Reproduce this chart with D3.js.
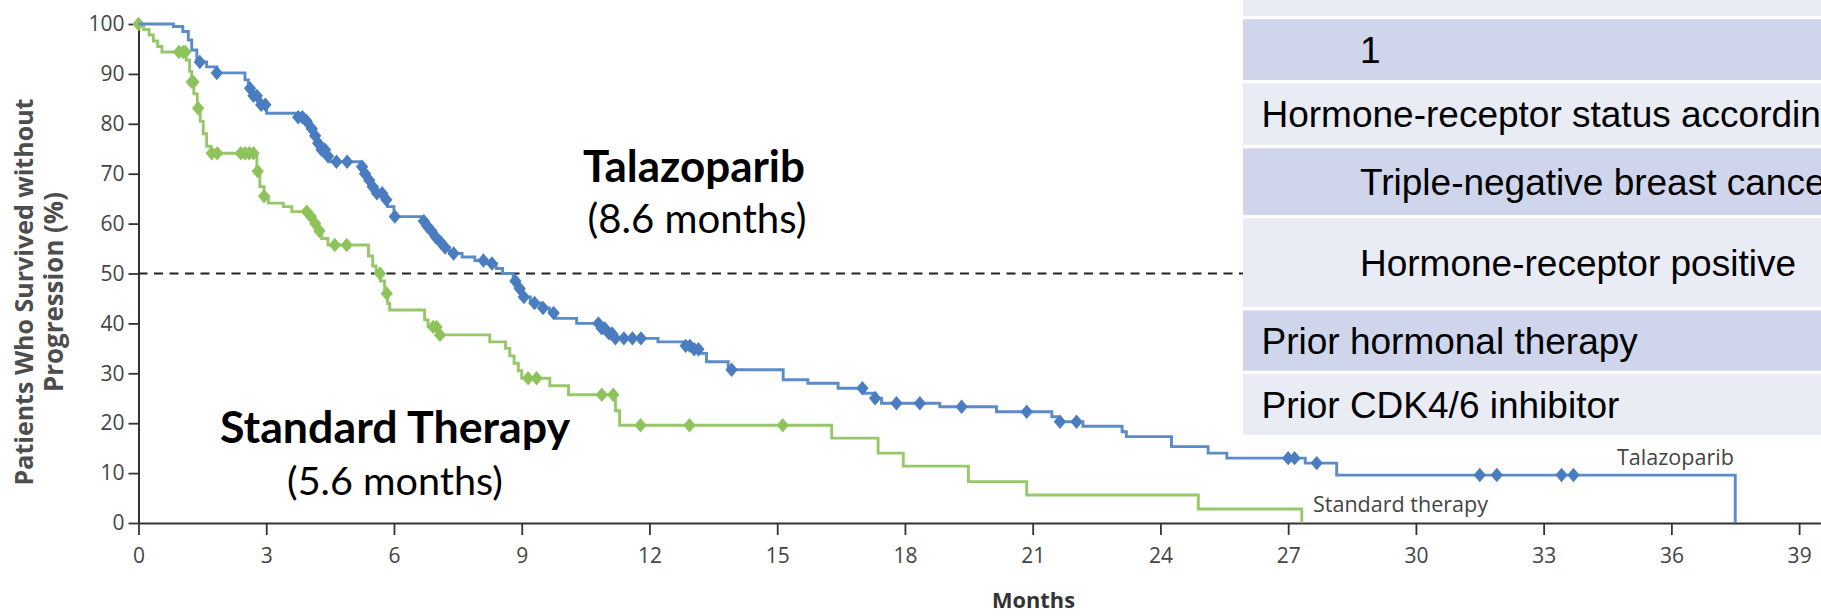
<!DOCTYPE html>
<html>
<head>
<meta charset="utf-8">
<script src="https://cdn.jsdelivr.net/npm/d3@7"></script>
<style>
  html, body { margin: 0; padding: 0; background: #fff; overflow: hidden; }
</style>
</head>
<body>
<div id="chart"></div>
<script>
// Kaplan-Meier steps (months, % without progression)
const talaTimes = [0, 0.82, 1.04, 1.17, 1.25, 1.37, 1.60, 1.84, 2.50, 2.58, 2.70, 2.85, 3.01, 3.75, 3.90, 4.03, 4.11, 4.20, 4.30, 4.40, 4.50,
  5.20, 5.30, 5.40, 5.50, 5.60, 5.75, 5.85, 6.00, 6.65, 6.75, 6.85, 6.95, 7.05, 7.15, 7.30, 7.60, 7.90, 8.15, 8.40, 8.55, 8.80, 8.90, 9.00,
  9.20, 9.45, 9.65, 9.80, 10.29, 10.85, 11.00, 11.15, 12.20, 12.85, 13.00, 13.20, 13.34, 13.85, 15.14, 15.72, 16.43, 17.05, 17.30, 17.45,
  18.82, 20.15, 21.45, 21.60, 22.18, 23.10, 23.20, 24.26, 25.12, 25.56, 27.40, 28.14, 37.50];
const talaSurv = [100, 99.5, 98.5, 96.8, 94.8, 92.4, 91.4, 90.2, 88.8, 87.1, 85.6, 83.8, 82.1, 81.3, 80.5, 79.0, 77.6, 76.1, 74.8, 73.5, 72.4,
  71.4, 70.0, 68.7, 67.4, 66.1, 64.8, 63.4, 61.4, 60.5, 59.5, 58.5, 57.3, 56.2, 55.2, 54.0, 53.3, 52.6, 52.0, 51.0, 50.0, 48.5, 47.0, 45.3,
  44.1, 43.1, 42.1, 41.0, 40.0, 39.0, 38.0, 37.0, 36.3, 35.5, 34.8, 34.0, 32.3, 30.7, 28.7, 28.0, 27.0, 26.0, 25.0, 24.0,
  23.3, 22.3, 21.3, 20.3, 19.4, 18.3, 17.3, 15.3, 14.0, 13.0, 12.0, 9.6, 0];
const talaCensor = [1.44, 1.84, 2.62, 2.70, 2.78, 2.88, 2.98, 3.75, 3.85, 3.95, 4.07, 4.15, 4.22, 4.30, 4.38, 4.45, 4.65, 4.90,
  5.25, 5.32, 5.42, 5.50, 5.60, 5.72, 5.82, 6.02, 6.70, 6.78, 6.88, 6.98, 7.10, 7.20, 7.40, 8.10, 8.30, 8.85, 8.95, 9.05, 9.30, 9.50, 9.75,
  10.80, 10.88, 10.95, 11.05, 11.12, 11.20, 11.40, 11.60, 11.80, 12.85, 12.95, 13.05, 13.15, 13.93, 17.00, 17.30, 17.80, 18.35,
  19.33, 20.86, 21.64, 22.03, 27.00, 27.15, 27.67, 31.50, 31.90, 33.42, 33.70];

const stdTimes = [0, 0.12, 0.25, 0.35, 0.45, 0.55, 1.12, 1.20, 1.25, 1.30, 1.38, 1.45, 1.52, 1.60, 1.70, 2.78, 2.85, 2.95, 3.05, 3.40, 3.60,
  4.00, 4.10, 4.20, 4.30, 4.45, 5.40, 5.50, 5.58, 5.68, 5.78, 5.85, 5.90, 6.72, 6.80, 7.05, 8.25, 8.62, 8.72, 8.82, 8.92, 9.00, 9.66, 10.10,
  11.20, 11.30, 16.28, 17.37, 17.96, 19.49, 20.86, 24.89, 27.32];
const stdSurv = [100, 98.9, 97.8, 96.6, 95.5, 94.4, 92.8, 90.5, 88.4, 86.0, 83.1, 80.5, 78.0, 75.5, 74.1, 70.5, 67.4, 65.5, 64.1, 63.4, 62.4,
  61.4, 60.0, 58.5, 57.0, 55.7, 53.5, 51.5, 50.0, 48.5, 46.0, 44.0, 42.7, 40.7, 39.3, 37.7, 36.3, 35.0, 33.5, 32.0, 30.5, 29.0, 27.5, 25.7,
  22.5, 19.6, 17.0, 14.0, 11.4, 8.3, 5.6, 2.8, 0];
const stdCensor = [0, 0.95, 1.05, 1.10, 1.25, 1.29, 1.40, 1.72, 1.85, 2.40, 2.50, 2.60, 2.70, 2.80, 2.95, 3.95, 4.05, 4.15, 4.25,
  4.61, 4.89, 5.67, 5.83, 6.92, 7.00, 7.08, 9.15, 9.35, 10.88, 11.15, 11.79, 12.94, 15.13];

const xTicks = [0, 3, 6, 9, 12, 15, 18, 21, 24, 27, 30, 33, 36, 39];
const yTicks = [0, 10, 20, 30, 40, 50, 60, 70, 80, 90, 100];
const medianLine = 50;

const tableText = ["", "1", "Hormone-receptor status according", "Triple-negative breast cancer",
  "Hormone-receptor positive", "Prior hormonal therapy", "Prior CDK4/6 inhibitor"];
const tableLevel = [1, 1, 0, 1, 1, 0, 0];

(function () {
  const W = 1821, H = 616;
  const BLUE_LINE = "#5b8bc8", BLUE_MARK = "#4a7cc0";
  const GREEN_LINE = "#96c86a", GREEN_MARK = "#8ec35c";
  const AXIS_FONT = '"Open Sans", "Noto Sans", sans-serif';
  const NOTE_FONT = 'Lato, "Open Sans", sans-serif';
  const TABLE_FONT = '"Liberation Sans", Arial, sans-serif';

  const svg = d3.select("#chart").append("svg")
    .attr("width", W).attr("height", H)
    .style("display", "block");

  const x = d3.scaleLinear().domain([0, 39.5]).range([138.5, 138.5 + 39.5 * 42.58]);
  const y = d3.scaleLinear().domain([0, 100]).range([523, 24]);

  function fitWidth(sel, target) {
    const w = sel.node().getComputedTextLength();
    const fs = parseFloat(sel.attr("font-size"));
    sel.attr("font-size", (fs * target / w).toFixed(2));
    return sel;
  }

  // axes
  const yAxis = svg.append("g")
    .attr("transform", `translate(${x(0)},0)`)
    .call(d3.axisLeft(y).tickValues(yTicks).tickSize(10).tickSizeOuter(0).tickPadding(4));
  const xAxis = svg.append("g")
    .attr("transform", `translate(0,${y(0)})`)
    .call(d3.axisBottom(x).tickValues(xTicks).tickSize(12).tickSizeOuter(0).tickPadding(13));

  [yAxis, xAxis].forEach(g => {
    g.select(".domain").attr("stroke", "#333").attr("stroke-width", 2);
    g.selectAll(".tick line").attr("stroke", "#333").attr("stroke-width", 1.8);
    g.selectAll(".tick text")
      .attr("fill", "#444")
      .attr("font-size", 21)
      .style("font-family", AXIS_FONT);
  });

  // median reference line
  svg.append("line")
    .attr("x1", x(0)).attr("x2", x(39.5))
    .attr("y1", y(medianLine)).attr("y2", y(medianLine))
    .attr("stroke", "#222").attr("stroke-width", 2)
    .attr("stroke-dasharray", "9,6.5");

  const stepLine = d3.line()
    .x(d => x(d[0])).y(d => y(d[1]))
    .curve(d3.curveStepAfter);

  const diamond = {
    draw(ctx, size) {
      const h = Math.sqrt(size) * 0.6, w = h * 0.85;
      ctx.moveTo(0, -h); ctx.lineTo(w, 0); ctx.lineTo(0, h); ctx.lineTo(-w, 0); ctx.closePath();
    }
  };

  function drawCurve(times, surv, censor, lineColor, markColor) {
    const pts = times.map((t, i) => [t, surv[i]]);
    svg.append("path")
      .datum(pts)
      .attr("d", stepLine)
      .attr("fill", "none")
      .attr("stroke", lineColor)
      .attr("stroke-width", 2.9);

    const valueAt = t => surv[Math.max(0, d3.bisectRight(times, t) - 1)];
    svg.append("g").selectAll("path")
      .data(censor)
      .join("path")
      .attr("d", d3.symbol().type(diamond).size(145))
      .attr("transform", t => `translate(${x(t)},${y(valueAt(t))})`)
      .attr("fill", markColor);
  }

  drawCurve(stdTimes, stdSurv, stdCensor, GREEN_LINE, GREEN_MARK);
  drawCurve(talaTimes, talaSurv, talaCensor, BLUE_LINE, BLUE_MARK);

  // axis titles
  const yTitle = ["Patients Who Survived without", "Progression (%)"];
  const yTitleX = [33, 63], yTitleW = [387, 200];
  yTitle.forEach((t, i) => {
    const s = svg.append("text")
      .attr("transform", `translate(${yTitleX[i]},292) rotate(-90)`)
      .attr("text-anchor", "middle")
      .attr("font-size", 24)
      .attr("font-weight", 700)
      .attr("fill", "#4d4d4d")
      .style("font-family", AXIS_FONT)
      .text(t);
    fitWidth(s, yTitleW[i]);
  });

  fitWidth(svg.append("text")
    .attr("x", 1033.5).attr("y", 608)
    .attr("text-anchor", "middle")
    .attr("font-size", 22)
    .attr("font-weight", 700)
    .attr("fill", "#333")
    .style("font-family", AXIS_FONT)
    .text("Months"), 83);

  // curve end labels
  fitWidth(svg.append("text")
    .attr("x", 1617).attr("y", 465)
    .attr("font-size", 21).attr("fill", "#444")
    .style("font-family", AXIS_FONT)
    .text("Talazoparib"), 117);
  fitWidth(svg.append("text")
    .attr("x", 1313).attr("y", 512)
    .attr("font-size", 21).attr("fill", "#444")
    .style("font-family", AXIS_FONT)
    .text("Standard therapy"), 175);

  // median annotations
  function note(cx, yy, text, weight, width) {
    fitWidth(svg.append("text")
      .attr("x", cx).attr("y", yy)
      .attr("text-anchor", "middle")
      .attr("font-size", 40)
      .attr("font-weight", weight)
      .attr("fill", "#000")
      .style("font-family", NOTE_FONT)
      .text(text), width);
  }
  note(694, 182, "Talazoparib", 700, 222);
  note(697, 233, "(8.6 months)", 400, 219);
  note(395, 443, "Standard Therapy", 700, 350);
  note(395, 495, "(5.6 months)", 400, 216);

  // table overlay (its text runs off the right edge, as in the source slide)
  const rowBands = [[-45, 16], [19.3, 80], [83.3, 145], [148.3, 215], [218.3, 307], [310.5, 370.7], [374, 435]];
  const tableX = 1243;
  const tbl = svg.append("g");
  tbl.selectAll("rect")
    .data(rowBands)
    .join("rect")
    .attr("x", tableX).attr("y", d => d[0])
    .attr("width", W - tableX).attr("height", d => d[1] - d[0])
    .attr("fill", (d, i) => i % 2 ? "#cfd5ea" : "#e9ebf5");
  tbl.selectAll("text")
    .data(tableText)
    .join("text")
    .attr("x", (d, i) => tableLevel[i] ? 1360 : 1261.5)
    .attr("y", (d, i) => (rowBands[i][0] + rowBands[i][1]) / 2 + 13.3)
    .attr("font-size", 37)
    .attr("fill", "#000")
    .style("font-family", TABLE_FONT)
    .text(d => d);
})();
</script>
</body>
</html>
